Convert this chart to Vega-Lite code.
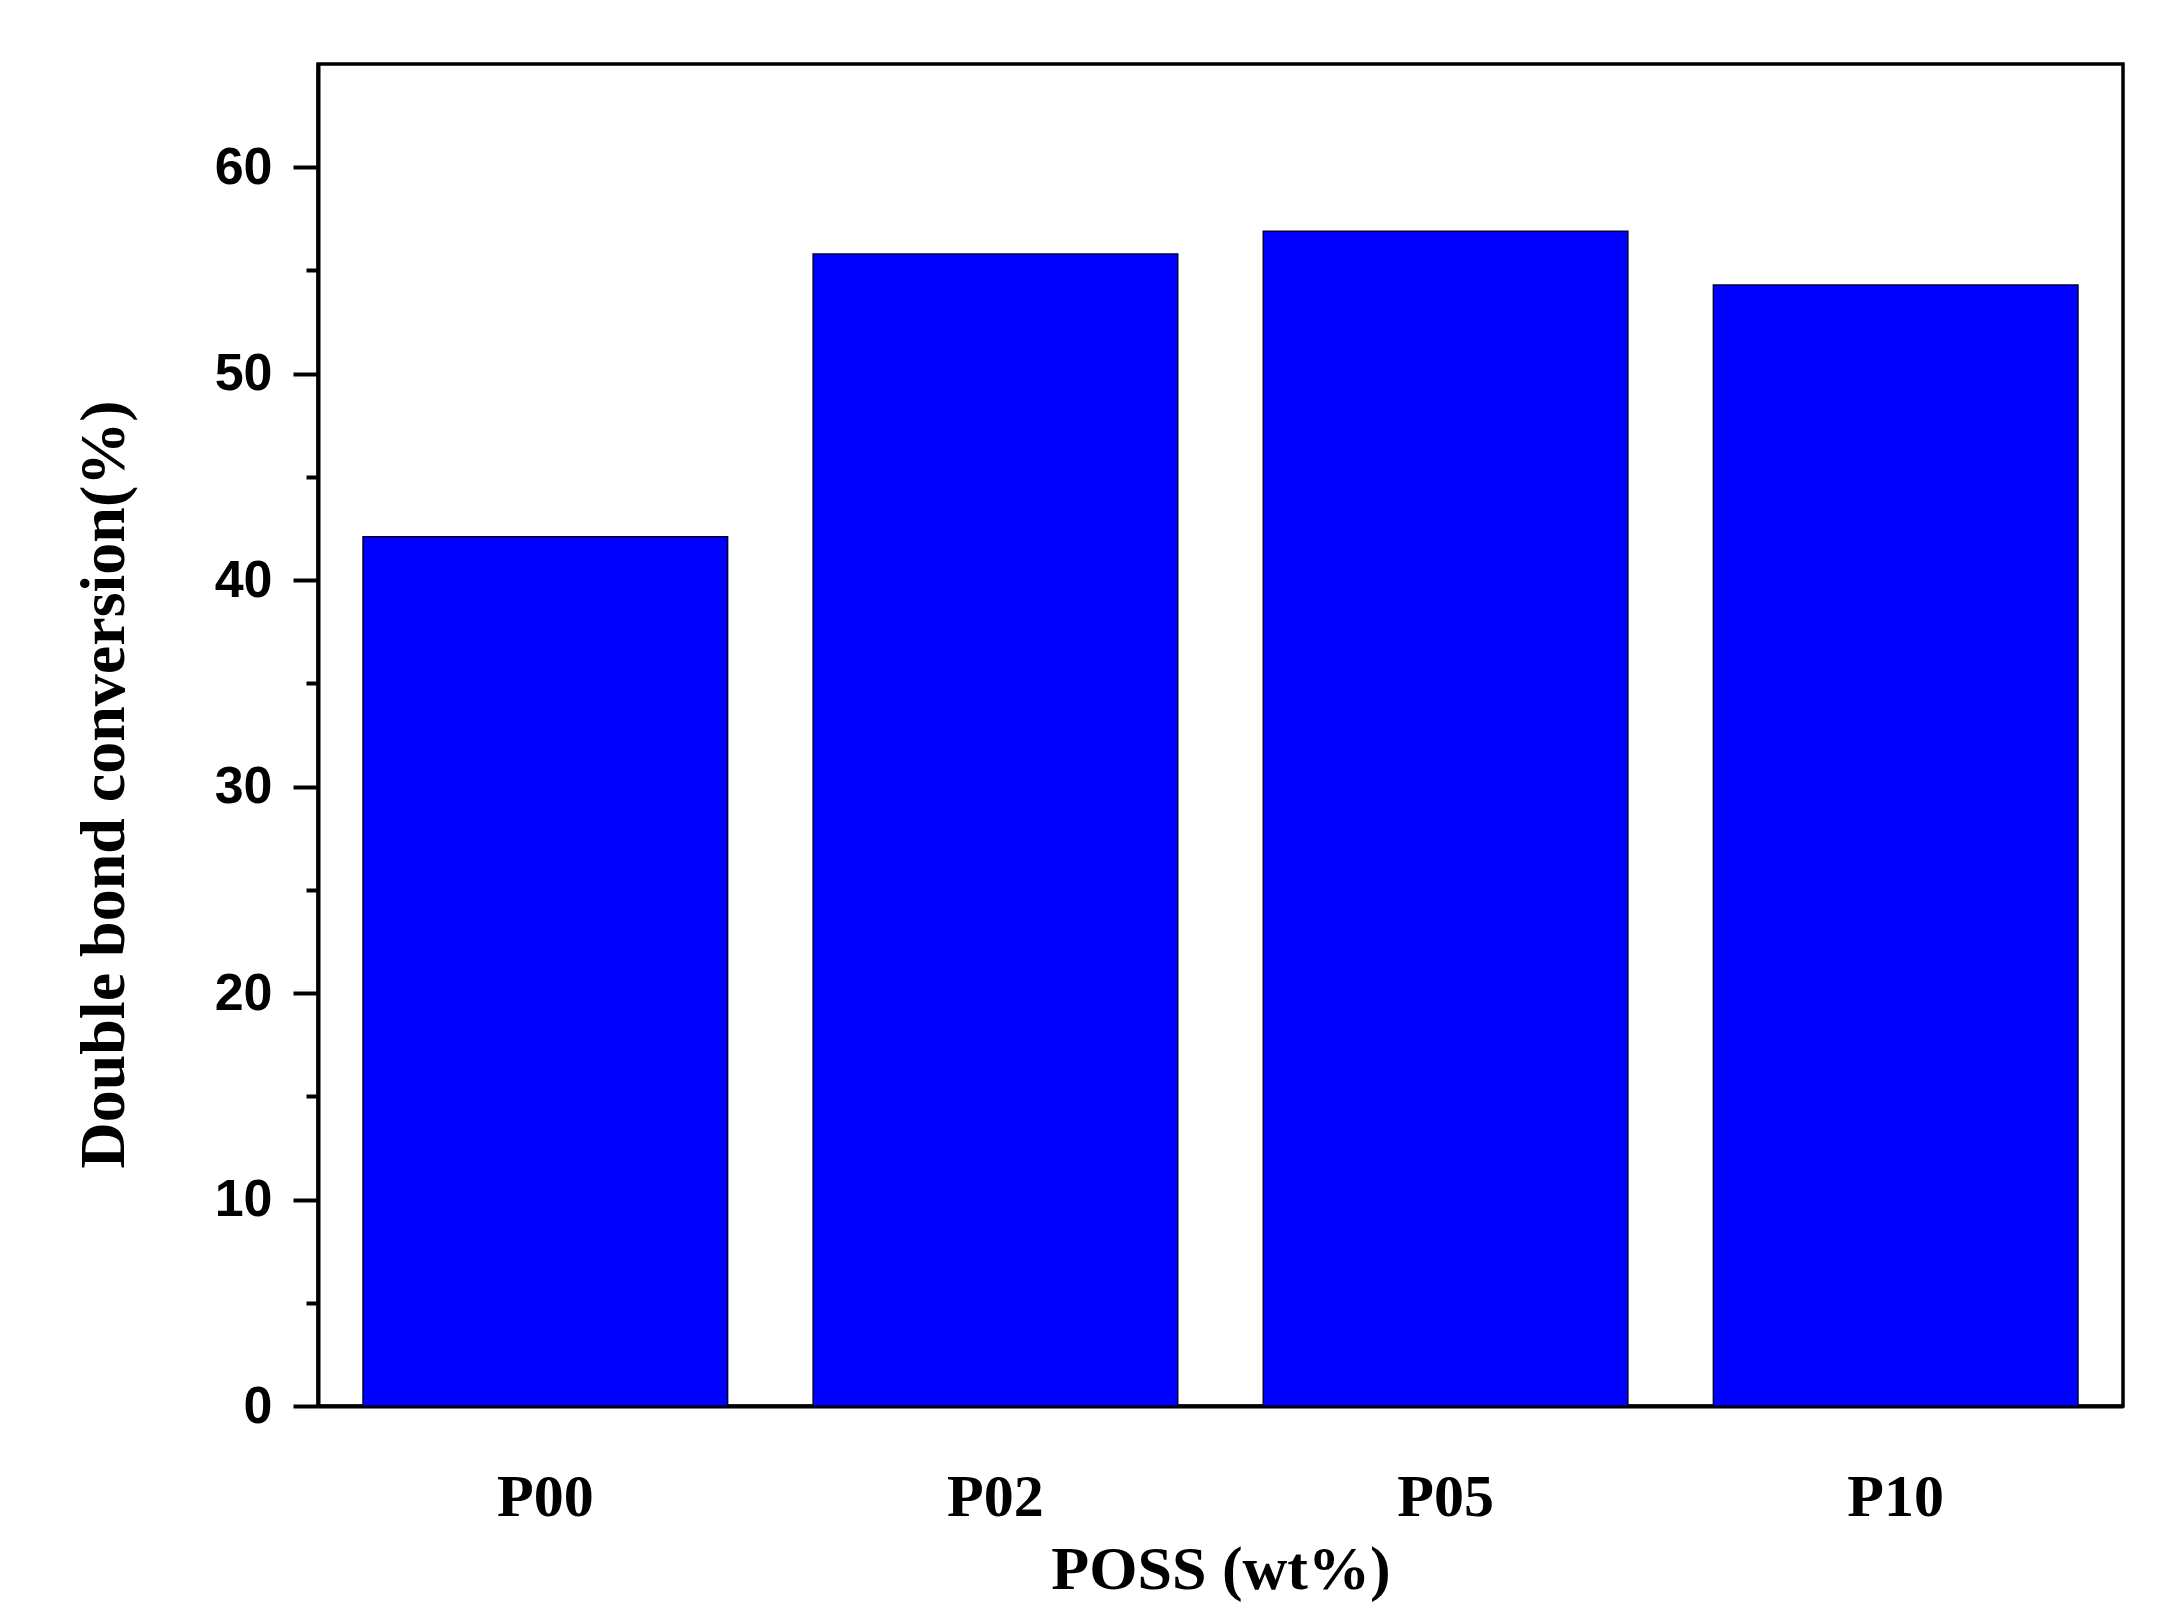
{
  "$schema": "https://vega.github.io/schema/vega-lite/v6.json",
  "autosize": "none",
  "width": 1805,
  "height": 1342,
  "padding": {"left": 318, "top": 64, "right": 61, "bottom": 214},
  "background": "white",
  "data": {
    "values": [
      {"sample": "P00", "conversion": 42.1},
      {"sample": "P02", "conversion": 55.8},
      {"sample": "P05", "conversion": 56.9},
      {"sample": "P10", "conversion": 54.3}
    ]
  },
  "mark": {"type": "bar", "color": "#0000FF", "stroke": "#000033", "strokeWidth": 1.5},
  "encoding": {
    "x": {
      "field": "sample",
      "type": "nominal",
      "sort": null,
      "title": "POSS (wt%)",
      "scale": {"paddingInner": 0.19, "paddingOuter": 0.1},
      "axis": {
        "labelAngle": 0,
        "ticks": false,
        "labelPadding": 62,
        "labelFont": "Liberation Serif",
        "labelFontWeight": "bold",
        "labelFontSize": 60,
        "labelColor": "black",
        "domainColor": "black",
        "domainWidth": 4,
        "titleFont": "Liberation Serif",
        "titleFontWeight": "bold",
        "titleFontSize": 62,
        "titleColor": "black",
        "titlePadding": 12
      }
    },
    "y": {
      "field": "conversion",
      "type": "quantitative",
      "title": "Double bond conversion(%)",
      "scale": {"domain": [0, 65], "nice": false},
      "axis": {
        "values": [0, 5, 10, 15, 20, 25, 30, 35, 40, 45, 50, 55, 60],
        "labelExpr": "datum.value % 10 === 0 ? datum.label : ''",
        "grid": false,
        "tickSize": {"condition": {"test": "datum.value % 10 === 0", "value": 25}, "value": 12},
        "tickWidth": 4,
        "tickColor": "black",
        "domainColor": "black",
        "domainWidth": 4,
        "labelPadding": 21,
        "labelFont": "Liberation Sans",
        "labelFontWeight": "bold",
        "labelFontSize": 52,
        "labelColor": "black",
        "titleFont": "Liberation Serif",
        "titleFontWeight": "bold",
        "titleFontSize": 64,
        "titleColor": "black",
        "titlePadding": 78,
        "titleY": 720
      }
    }
  },
  "config": {
    "view": {"stroke": "black", "strokeWidth": 3.5}
  }
}
